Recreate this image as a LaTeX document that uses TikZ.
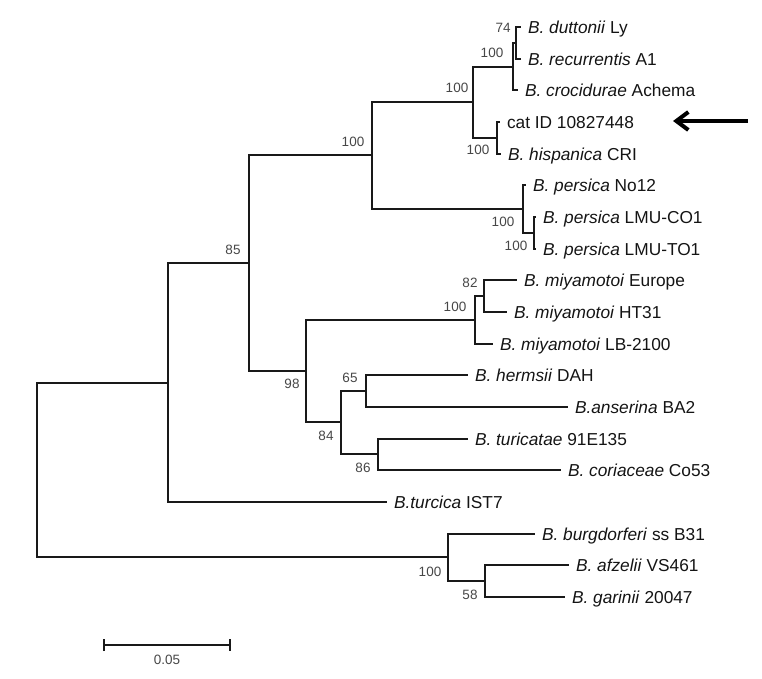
\documentclass[tikz,border=0pt]{standalone}
\usepackage{fontspec}
\setmainfont{Liberation Sans}
\usetikzlibrary{arrows.meta}
\begin{document}
\begin{tikzpicture}[x=1pt,y=-1pt,
  br/.style={line width=2pt, black!90},
  leaf/.style={anchor=west, inner xsep=7pt, inner ysep=0pt, outer sep=0pt,
    text height=12.5pt, text depth=0pt, text=black!92,
    font=\fontsize{17.3}{20}\selectfont},
  bs/.style={font=\fontsize{13.5}{15}\selectfont, text=black!72, inner sep=0pt}]
\useasboundingbox (0,0) rectangle (762,679);

% leaves
\node[leaf] (dutt) at (521,27)  {\textit{B. duttonii} Ly};
\node[leaf] (recu) at (521,59)  {\textit{B. recurrentis} A1};
\node[leaf] (croc) at (518,90)  {\textit{B. crocidurae} Achema};
\node[leaf] (cat)  at (500,122) {cat ID 10827448};
\node[leaf] (hisp) at (501,154) {\textit{B. hispanica} CRI};
\node[leaf] (no12) at (526,185) {\textit{B. persica} No12};
\node[leaf] (co1)  at (536,217) {\textit{B. persica} LMU-CO1};
\node[leaf] (to1)  at (536,249) {\textit{B. persica} LMU-TO1};
\node[leaf] (eur)  at (517,280) {\textit{B. miyamotoi} Europe};
\node[leaf] (ht31) at (507,312) {\textit{B. miyamotoi} HT31};
\node[leaf] (lb)   at (493,344) {\textit{B. miyamotoi} LB-2100};
\node[leaf] (herm) at (468,375) {\textit{B. hermsii} DAH};
\node[leaf] (anse) at (568,407) {\textit{B.anserina} BA2};
\node[leaf] (turi) at (468,439) {\textit{B. turicatae} 91E135};
\node[leaf] (cori) at (561,470) {\textit{B. coriaceae} Co53};
\node[leaf] (turc) at (387,502) {\textit{B.turcica} IST7};
\node[leaf] (burg) at (535,534) {\textit{B. burgdorferi} ss B31};
\node[leaf] (afze) at (569,565) {\textit{B. afzelii} VS461};
\node[leaf] (gari) at (565,597) {\textit{B. garinii} 20047};

% internal nodes
\coordinate (n74)   at (516,43);
\coordinate (ncroc) at (513,67);
\coordinate (nhisp) at (497,138);
\coordinate (nbig)  at (473,102);
\coordinate (nct)   at (534,233);
\coordinate (npers) at (523,209);
\coordinate (nrf)   at (372,155);
\coordinate (n82)   at (484,296);
\coordinate (nmiy)  at (475,320);
\coordinate (n65)   at (366,391);
\coordinate (n86)   at (378,454);
\coordinate (n84)   at (341,422);
\coordinate (n98)   at (306,371);
\coordinate (n85)   at (249,263);
\coordinate (nA)    at (168,383);
\coordinate (n58)   at (485,581);
\coordinate (nlyme) at (448,557);
\coordinate (root)  at (37,470);

% branches
\draw[br] (n74) |- (dutt.west);
\draw[br] (n74) |- (recu.west);
\draw[br] (ncroc) |- (n74);
\draw[br] (ncroc) |- (croc.west);
\draw[br] (nhisp) |- (cat.west);
\draw[br] (nhisp) |- (hisp.west);
\draw[br] (nbig) |- (ncroc);
\draw[br] (nbig) |- (nhisp);
\draw[br] (nct) |- (co1.west);
\draw[br] (nct) |- (to1.west);
\draw[br] (npers) |- (no12.west);
\draw[br] (npers) |- (nct);
\draw[br] (nrf) |- (nbig);
\draw[br] (nrf) |- (npers);
\draw[br] (n82) |- (eur.west);
\draw[br] (n82) |- (ht31.west);
\draw[br] (nmiy) |- (n82);
\draw[br] (nmiy) |- (lb.west);
\draw[br] (n65) |- (herm.west);
\draw[br] (n65) |- (anse.west);
\draw[br] (n86) |- (turi.west);
\draw[br] (n86) |- (cori.west);
\draw[br] (n84) |- (n65);
\draw[br] (n84) |- (n86);
\draw[br] (n98) |- (nmiy);
\draw[br] (n98) |- (n84);
\draw[br] (n85) |- (nrf);
\draw[br] (n85) |- (n98);
\draw[br] (nA) |- (n85);
\draw[br] (nA) |- (turc.west);
\draw[br] (n58) |- (afze.west);
\draw[br] (n58) |- (gari.west);
\draw[br] (nlyme) |- (burg.west);
\draw[br] (nlyme) |- (n58);
\draw[br] (root) |- (nA);
\draw[br] (root) |- (nlyme);

% bootstrap values
\node[bs] (b74)   at (503,28)  {74};
\node[bs] (bcroc) at (492,53)  {100};
\node[bs] (bbig)  at (457,88)  {100};
\node[bs] (brf)   at (353,142) {100};
\node[bs] (bhisp) at (478,150) {100};
\node[bs] (bpers) at (503,222) {100};
\node[bs] (bct)   at (516,246) {100};
\node[bs] (b85)   at (233,250) {85};
\node[bs] (b82)   at (470,283) {82};
\node[bs] (bmiy)  at (455,307) {100};
\node[bs] (b98)   at (292,384) {98};
\node[bs] (b65)   at (350,378) {65};
\node[bs] (b84)   at (326,436) {84};
\node[bs] (b86)   at (363,468) {86};
\node[bs] (blyme) at (430,572) {100};
\node[bs] (b58)   at (470,595) {58};

% arrow
\coordinate (atail) at (748,121);
\coordinate (ahead) at (673,121);
\draw[line width=4pt, -{Straight Barb[length=12pt,width=18pt,line width=4pt]}] (atail) -- (ahead);

% scale bar
\coordinate (sb1) at (103,645);
\coordinate (sb2) at (231,645);
\draw[line width=2pt, black!90, {Bar[width=12pt]}-{Bar[width=12pt]}] (sb1) -- (sb2);
\node[bs] (sbl) at (167,660) {0.05};
\end{tikzpicture}
\end{document}
